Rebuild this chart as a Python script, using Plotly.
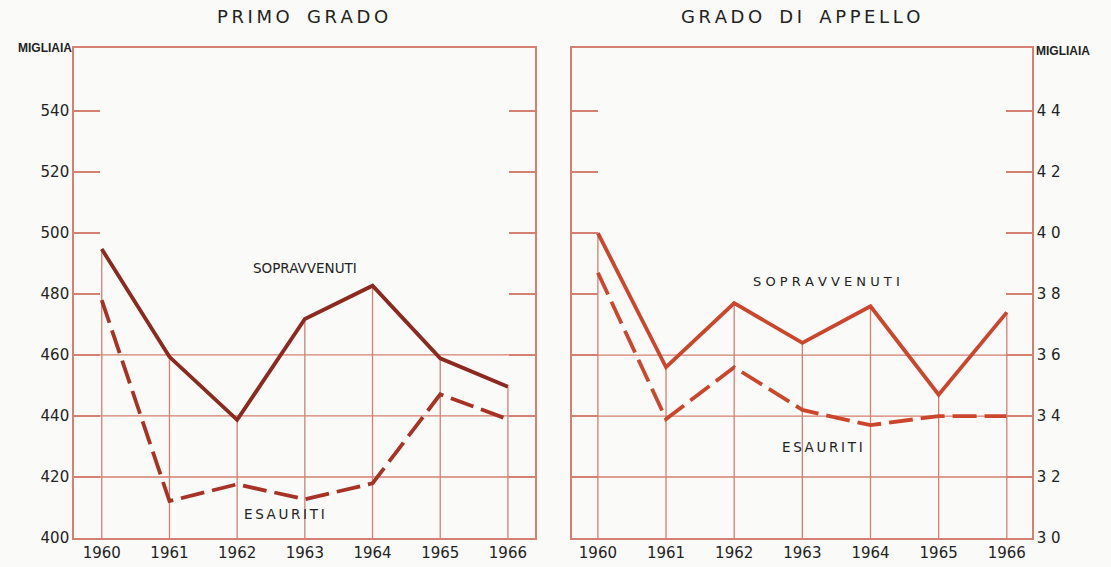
import plotly.graph_objs as go

years = [1960, 1961, 1962, 1963, 1964, 1965, 1966]

# primo grado (migliaia)
primo_sopravvenuti = [494.7, 459.4, 438.7, 471.8, 482.7, 458.9, 449.6]
primo_esauriti = [478.0, 412.1, 417.6, 412.7, 417.9, 447.1, 438.9]

# grado di appello (migliaia)
appello_sopravvenuti = [40.0, 35.6, 37.7, 36.4, 37.6, 34.7, 37.4]
appello_esauriti = [38.7, 33.9, 35.6, 34.2, 33.7, 34.0, 34.0]

primo_ticks = [400, 420, 440, 460, 480, 500, 520, 540]
appello_ticks = [30, 32, 34, 36, 38, 40, 42, 44]
primo_full_grid = [420, 440, 460]
appello_full_grid = [32, 34, 36]

GRID = "rgb(212,128,114)"
BG = "rgb(250,250,248)"
TXT = "rgb(35,35,35)"
FONT = "DejaVu Sans"


def spaced(s, sep="&#8201;"):
    words = s.split(" ")
    return "&nbsp;&nbsp;&nbsp;".join(sep.join(w) for w in words)


def vertical_grid(xs, tops, base):
    gx, gy = [], []
    for x, t in zip(xs, tops):
        gx += [x, x, None]
        gy += [base, t, None]
    return gx, gy


fig = go.Figure()

gx, gy = vertical_grid(years, primo_sopravvenuti, primo_ticks[0])
fig.add_trace(go.Scatter(x=gx, y=gy, mode="lines", line=dict(color=GRID, width=1.3),
                         hoverinfo="skip", showlegend=False, xaxis="x", yaxis="y"))
gx, gy = vertical_grid(years, appello_sopravvenuti, appello_ticks[0])
fig.add_trace(go.Scatter(x=gx, y=gy, mode="lines", line=dict(color=GRID, width=1.3),
                         hoverinfo="skip", showlegend=False, xaxis="x2", yaxis="y2"))

fig.add_trace(go.Scatter(x=years, y=primo_sopravvenuti, mode="lines", name="Sopravvenuti",
                         line=dict(color="rgb(140,42,34)", width=3.8), xaxis="x", yaxis="y"))
fig.add_trace(go.Scatter(x=years, y=primo_esauriti, mode="lines", name="Esauriti",
                         line=dict(color="rgb(168,50,38)", width=3.8, dash="24px,8px"),
                         xaxis="x", yaxis="y"))
fig.add_trace(go.Scatter(x=years, y=appello_sopravvenuti, mode="lines", name="Sopravvenuti",
                         line=dict(color="rgb(204,70,46)", width=3.8), xaxis="x2", yaxis="y2"))
fig.add_trace(go.Scatter(x=years, y=appello_esauriti, mode="lines", name="Esauriti",
                         line=dict(color="rgb(204,70,46)", width=3.8, dash="24px,8px"),
                         xaxis="x2", yaxis="y2"))

shapes = []
for v in primo_full_grid:
    shapes.append(dict(type="line", xref="x domain", yref="y", x0=0, x1=1, y0=v, y1=v,
                       line=dict(color=GRID, width=1.3), layer="below"))
for v in appello_full_grid:
    shapes.append(dict(type="line", xref="x2 domain", yref="y2", x0=0, x1=1, y0=v, y1=v,
                       line=dict(color=GRID, width=1.3), layer="below"))

x_left = [74 / 1111, 535 / 1111]
x_right = [572 / 1111, 1032 / 1111]
y_dom = [29 / 567, 519 / 567]

xcommon = dict(tickvals=years, ticktext=[str(y) for y in years], showgrid=False,
               zeroline=False, showline=True, linecolor=GRID, linewidth=1.6, mirror=True,
               ticks="", automargin=False,
               tickfont=dict(family=FONT, size=15, color=TXT))
ycommon = dict(showgrid=False, zeroline=False, showline=True, linecolor=GRID, linewidth=1.6,
               mirror="ticks", ticks="inside", ticklen=26, tickcolor=GRID, tickwidth=1.5,
               automargin=False, tickfont=dict(family=FONT, size=15, color=TXT))

layout = go.Layout(
    width=1111, height=567,
    paper_bgcolor=BG, plot_bgcolor=BG,
    margin=dict(l=0, r=0, t=0, b=0, pad=0),
    showlegend=False,
    xaxis=dict(xcommon, domain=x_left, range=[1959.59, 1966.4], anchor="y"),
    yaxis=dict(ycommon, domain=y_dom, range=[400, 560.6], tickvals=primo_ticks,
               anchor="x", side="left"),
    xaxis2=dict(xcommon, domain=x_right, range=[1959.62, 1966.37], anchor="y2"),
    yaxis2=dict(ycommon, domain=y_dom, range=[30, 46.07], tickvals=appello_ticks,
                ticktext=[" ".join(str(t)) for t in appello_ticks], anchor="x2", side="right"),
    shapes=shapes,
)

annotations = [
    dict(text=spaced("PRIMO GRADO"), xref="paper", yref="paper", x=302 / 1111,
         y=1 - 16 / 567, xanchor="center", yanchor="middle", showarrow=False,
         font=dict(family=FONT, size=18, color=TXT)),
    dict(text=spaced("GRADO DI APPELLO"), xref="paper", yref="paper", x=800 / 1111,
         y=1 - 16 / 567, xanchor="center", yanchor="middle", showarrow=False,
         font=dict(family=FONT, size=18, color=TXT)),
    dict(text="<b>MIGLIAIA</b>", xref="paper", yref="paper", x=x_left[0], y=y_dom[1],
         xanchor="right", yanchor="middle", showarrow=False,
         font=dict(family="Liberation Sans", size=12, color=TXT)),
    dict(text="<b>MIGLIAIA</b>", xref="paper", yref="paper", x=x_right[1] + 2 / 1111,
         y=y_dom[1] - 0.006, xanchor="left", yanchor="middle", showarrow=False,
         font=dict(family="Liberation Sans", size=12, color=TXT)),
    dict(text="SOPRAVVENUTI", xref="x", yref="y", x=1963.0, y=488.5,
         showarrow=False, font=dict(family=FONT, size=13.5, color=TXT)),
    dict(text=spaced("ESAURITI"), xref="x", yref="y", x=1962.7, y=408.0, showarrow=False,
         font=dict(family=FONT, size=13.5, color=TXT)),
    dict(text=spaced("SOPRAVVENUTI", sep=" "), xref="x2", yref="y2", x=1963.35, y=38.4,
         showarrow=False, font=dict(family=FONT, size=13, color=TXT)),
    dict(text=spaced("ESAURITI"), xref="x2", yref="y2", x=1963.3, y=33.0, showarrow=False,
         font=dict(family=FONT, size=13.5, color=TXT)),
]
layout["annotations"] = annotations

fig.update_layout(layout)
# the page body has a default margin; remove it so the figure starts at the window corner
fig.write_html("out.html", config={"displayModeBar": False},
               post_script="document.body.style.margin='0px';")
